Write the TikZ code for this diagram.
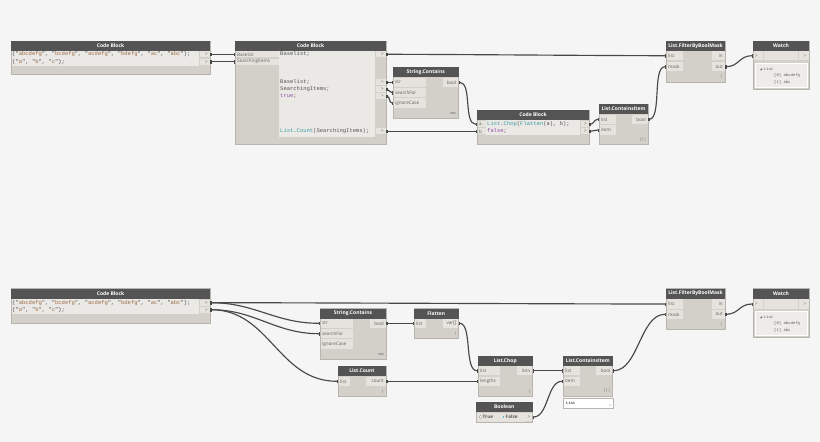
\documentclass[tikz,border=0pt]{standalone}
\usepackage{fontspec}
\setmainfont{Open Sans}
\setmonofont{Liberation Mono}
\usetikzlibrary{fit,arrows.meta}
\definecolor{bg}{HTML}{F5F5F5}
\definecolor{nodehead}{HTML}{545454}
\definecolor{nodebody}{HTML}{D3D0C9}
\definecolor{nodeedge}{HTML}{B8B5AE}
\definecolor{cellbg}{HTML}{E6E3DE}
\definecolor{codebg}{HTML}{EBE9E5}
\definecolor{labtext}{HTML}{5E5E5E}
\definecolor{wirecol}{HTML}{484848}
\definecolor{strcol}{HTML}{9C6B45}
\definecolor{kwcol}{HTML}{3C9AA6}
\definecolor{boolcol}{HTML}{8E4FA8}
\definecolor{codetext}{HTML}{555555}
\definecolor{watchbg}{HTML}{EDECE9}
\tikzset{
  body/.style={fill=nodebody, draw=nodeedge, line width=0.5pt, inner sep=0pt},
  headbar/.style={fill=nodehead},
  ttl/.style={text=white, font=\fontsize{5}{6}\selectfont\bfseries, inner sep=0pt},
  cell/.style={fill=cellbg},
  cbg/.style={fill=codebg},
  plab/.style={font=\fontsize{4.6}{5}\selectfont, text=labtext, inner sep=0pt},
  codet/.style={font=\fontsize{5.5}{6}\selectfont\ttfamily, text=codetext, inner sep=0pt, anchor=west},
  lace/.style={font=\fontsize{3.8}{4}\selectfont, text=labtext, inner sep=0pt},
  wtxt/.style={font=\fontsize{3.9}{4.5}\selectfont\ttfamily, text=labtext, inner sep=0pt, anchor=west},
  wire/.style={draw=wirecol, line width=1.15pt,
    {Rectangle[length=1.4pt,width=3pt]}-{Rectangle[length=1.4pt,width=3pt]}},
}
\newcommand{\dnode}[6]{% name, x1, y1, x2, y2, title
  \node[body, fit={(#2,#3) (#4,#5)}] (#1) {};
  \fill[headbar] (#2,#3) rectangle (#4,{#3+10});
  \node[ttl] (#1-t) at ({(#2+#4)/2},{#3+5}) {#6};
}
\newcommand{\incell}[5]{% x1, x2, y, h, label
  \fill[cell] ({#1+0.5},{#3-#4/2+0.4}) rectangle (#2,{#3+#4/2-0.4});
  \node[plab, anchor=west] at ({#1+2},#3) {#5};
}
\newcommand{\outcell}[5]{% x1, x2, y, h, label
  \fill[cell] (#1,{#3-#4/2+0.4}) rectangle ({#2-0.5},{#3+#4/2-0.4});
  \node[plab, anchor=east] at ({#2-2},#3) {#5};
}
\newcommand{\wirec}[3][20]{\draw[wire] (#2) .. controls +(#1,0) and +(-#1,0) .. (#3);}
\begin{document}
\begin{tikzpicture}[x=1pt,y=-1pt]
\fill[bg] (0,0) rectangle (820,442);
\useasboundingbox (0,0) rectangle (820,442);

%%%%%%%%%%%%%%%% TOP GRAPH %%%%%%%%%%%%%%%%
% Code Block 1
\dnode{cbA}{11}{41}{210}{74}{Code Block}
\fill[cbg] (11.5,51) rectangle (199,65.5);
\node[codet] (cbA-l1) at (12,54.3) {\{"\textcolor{strcol}{abcdefg}", "\textcolor{strcol}{bcdefg}", "\textcolor{strcol}{acdefg}", "\textcolor{strcol}{bdefg}", "\textcolor{strcol}{ac}", "\textcolor{strcol}{abc}"\};};
\node[codet] (cbA-l2) at (12,61.7) {\{"\textcolor{strcol}{a}", "\textcolor{strcol}{b}", "\textcolor{strcol}{c}"\};};
\outcell{199.5}{210}{54.3}{7}{>}
\outcell{199.5}{210}{61.7}{7}{>}
\coordinate (cbA-o1) at (210,54.3);
\coordinate (cbA-o2) at (210,61.7);

% Code Block 2
\dnode{cbB}{235}{41}{386}{144}{Code Block}
\incell{235}{278.5}{54.3}{7}{Baselist}
\incell{235}{278.5}{61.7}{7}{SearchingItems}
\fill[cbg] (279,51) rectangle (375,137);
\node[codet] at (280,54.3) {Baselist;};
\node[codet] at (280,82.3) {Baselist;};
\node[codet] at (280,89.3) {SearchingItems;};
\node[codet] at (280,96.3) {\textcolor{boolcol}{true};};
\node[codet] at (280,131.3) {\textcolor{kwcol}{List}.\textcolor{kwcol}{Count}(SearchingItems);};
\foreach \yy in {54.3,82.3,89.3,96.3,131.3}{\outcell{375.5}{386}{\yy}{7}{>}}
\coordinate (cbB-i1) at (235,54.3);
\coordinate (cbB-i2) at (235,61.7);
\coordinate (cbB-o1) at (386,54.3);
\coordinate (cbB-o2) at (386,82.3);
\coordinate (cbB-o3) at (386,89.3);
\coordinate (cbB-o4) at (386,96.3);
\coordinate (cbB-o5) at (386,131.3);

% String.Contains (top)
\dnode{scA}{393}{67}{458.5}{118}{String.Contains}
\incell{393}{426}{82.3}{10}{str}
\incell{393}{426}{92.7}{10}{searchFor}
\incell{393}{426}{103}{10}{ignoreCase}
\outcell{443}{458.5}{82.3}{10}{bool}
\node[lace] at (453,113.3) {xxx};
\coordinate (scA-i1) at (393,82.3);
\coordinate (scA-i2) at (393,92.7);
\coordinate (scA-i3) at (393,103);
\coordinate (scA-o) at (458.5,82.3);

% Code Block 3
\dnode{cbC}{477}{110}{589}{144}{Code Block}
\incell{477}{486}{124.3}{7}{a}
\incell{477}{486}{131.3}{7}{b}
\fill[cbg] (486,120) rectangle (580,135);
\node[codet] at (487,124.3) {\textcolor{kwcol}{List}.\textcolor{kwcol}{Chop}(\textcolor{kwcol}{Flatten}(a), b);};
\node[codet] at (487,131.3) {\textcolor{boolcol}{false};};
\outcell{580.5}{589}{124.3}{7}{>}
\outcell{580.5}{589}{131.3}{7}{>}
\coordinate (cbC-i1) at (477,124.3);
\coordinate (cbC-i2) at (477,131.3);
\coordinate (cbC-o1) at (589,124.3);
\coordinate (cbC-o2) at (589,131.3);

% List.ContainsItem (top)
\dnode{ciA}{599}{104}{648}{144}{List.ContainsItem}
\incell{599}{616}{119.3}{10}{list}
\incell{599}{616}{130}{10}{item}
\outcell{632}{648}{119.3}{10}{bool}
\node[lace] at (643,140) {|||};
\coordinate (ciA-i1) at (599,119.3);
\coordinate (ciA-i2) at (599,130);
\coordinate (ciA-o) at (648,119.3);

% List.FilterByBoolMask (top)
\dnode{fbA}{666}{41}{725}{82}{List.FilterByBoolMask}
\incell{666}{683}{55.7}{10}{list}
\incell{666}{683}{66.7}{10}{mask}
\outcell{712}{725}{55.7}{10}{in}
\outcell{712}{725}{66.7}{10}{out}
\node[lace] at (722,77) {|};
\coordinate (fbA-i1) at (666,55.7);
\coordinate (fbA-i2) at (666,66.7);
\coordinate (fbA-o) at (725,66.7);

% Watch (top)
\dnode{wA}{753}{41}{809}{89}{Watch}
\fill[cell] (753.5,51.4) rectangle (763,60.2);
\fill[cell] (764,51.4) rectangle (798,60.2);
\fill[cell] (799,51.4) rectangle (808.5,60.2);
\node[plab] at (756.5,55.7) {>};
\node[plab] at (805,55.7) {>};
\draw[fill=watchbg, draw=white, line width=0.6pt] (755.5,63.5) rectangle (807,87);
\fill[labtext] (760,70.2) -- (762,68) -- (762,70.2) -- cycle;
\node[wtxt] at (764,69) {List};
\node[wtxt] at (774,75.7) {[0] abcdefg};
\node[wtxt] at (774,82.3) {[1] abc};
\coordinate (wA-i) at (753,55.7);

% Top wires
\wirec[8]{cbA-o1}{cbB-i1}
\wirec[8]{cbA-o2}{cbB-i2}
\wirec[60]{cbB-o1}{fbA-i1}
\wirec[4]{cbB-o2}{scA-i1}
\wirec[4]{cbB-o3}{scA-i2}
\wirec[4]{cbB-o4}{scA-i3}
\wirec[30]{cbB-o5}{cbC-i2}
\wirec[14]{scA-o}{cbC-i1}
\wirec[5]{cbC-o1}{ciA-i1}
\wirec[5]{cbC-o2}{ciA-i2}
\wirec[14]{ciA-o}{fbA-i2}
\wirec[14]{fbA-o}{wA-i}

%%%%%%%%%%%%%%%% BOTTOM GRAPH %%%%%%%%%%%%%%%%
% Code Block 4
\dnode{cbD}{11}{288.5}{210}{323.5}{Code Block}
\fill[cbg] (11.5,298.5) rectangle (199,313.5);
\node[codet] at (12,302.7) {\{"\textcolor{strcol}{abcdefg}", "\textcolor{strcol}{bcdefg}", "\textcolor{strcol}{acdefg}", "\textcolor{strcol}{bdefg}", "\textcolor{strcol}{ac}", "\textcolor{strcol}{abc}"\};};
\node[codet] at (12,309.7) {\{"\textcolor{strcol}{a}", "\textcolor{strcol}{b}", "\textcolor{strcol}{c}"\};};
\outcell{199.5}{210}{302.7}{7}{>}
\outcell{199.5}{210}{309.7}{7}{>}
\coordinate (cbD-o1) at (210,302.7);
\coordinate (cbD-o2) at (210,309.7);

% String.Contains (bottom)
\dnode{scB}{320}{308.5}{386}{359}{String.Contains}
\incell{320}{353}{323.3}{10}{str}
\incell{320}{353}{333.7}{10}{searchFor}
\incell{320}{353}{344}{10}{ignoreCase}
\outcell{370}{386}{323.3}{10}{bool}
\node[lace] at (381,354.3) {xxx};
\coordinate (scB-i1) at (320,323.3);
\coordinate (scB-i2) at (320,333.7);
\coordinate (scB-o) at (386,323.3);

% List.Count
\dnode{lcB}{338}{366}{386}{396}{List.Count}
\incell{338}{350}{381.3}{10}{list}
\outcell{366}{386}{381.3}{10}{count}
\node[lace] at (383,391.7) {|};
\coordinate (lcB-i) at (338,381.3);
\coordinate (lcB-o) at (386,381.3);

% Flatten
\dnode{flB}{414}{308.5}{458.5}{338.5}{Flatten}
\incell{414}{426}{323.3}{10}{list}
\outcell{443}{458.5}{323.3}{10}{var[]}
\node[lace] at (456,333.7) {|};
\coordinate (flB-i) at (414,323.3);
\coordinate (flB-o) at (458.5,323.3);

% List.Chop
\dnode{chB}{478}{356}{532.5}{396}{List.Chop}
\incell{478}{500}{370.7}{10}{list}
\incell{478}{500}{381.3}{10}{lengths}
\outcell{517}{532.5}{370.7}{10}{lists}
\node[lace] at (530,391.3) {|};
\coordinate (chB-i1) at (478,370.7);
\coordinate (chB-i2) at (478,381.3);
\coordinate (chB-o) at (532.5,370.7);

% Boolean
\dnode{boB}{476}{402}{532.5}{422}{Boolean}
\fill[cell] (476.5,412.5) rectangle (524.5,421.5);
\outcell{525}{532.5}{417}{9}{>}
\draw[labtext!60, fill=white, line width=0.3pt] (480.5,417) circle (1.6pt);
\node[plab, anchor=west, font=\fontsize{4.7}{5}\selectfont\bfseries] at (482.5,417) {True};
\draw[white, fill=kwcol!80, line width=0.3pt] (503.5,417) circle (1.6pt);
\node[plab, anchor=west, font=\fontsize{4.7}{5}\selectfont\bfseries] at (505.5,417) {False};
\coordinate (boB-o) at (532.5,417);

% List.ContainsItem (bottom)
\dnode{ciB}{563}{356}{612.5}{396}{List.ContainsItem}
\incell{563}{580}{370.7}{10}{list}
\incell{563}{580}{381.3}{10}{item}
\outcell{596}{612.5}{370.7}{10}{bool}
\node[lace] at (607,391) {|||};
\draw[fill=white, draw=nodeedge, line width=0.4pt] (563,398.5) rectangle (613,408.5);
\node[wtxt, text=black] at (566,403.3) {List};
\node[lace] at (610,406) {\fontsize{3}{3}\selectfont v};
\coordinate (ciB-i1) at (563,370.7);
\coordinate (ciB-i2) at (563,381.3);
\coordinate (ciB-o) at (612.5,370.7);

% List.FilterByBoolMask (bottom)
\dnode{fbB}{666}{288.5}{725}{329.5}{List.FilterByBoolMask}
\incell{666}{683}{304}{10}{list}
\incell{666}{683}{314.3}{10}{mask}
\outcell{712}{725}{304}{10}{in}
\outcell{712}{725}{314.3}{10}{out}
\node[lace] at (722,324.3) {|};
\coordinate (fbB-i1) at (666,304);
\coordinate (fbB-i2) at (666,314.3);
\coordinate (fbB-o) at (725,314.3);

% Watch (bottom)
\dnode{wB}{753}{288.5}{809}{337.5}{Watch}
\fill[cell] (753.5,299) rectangle (763,308.8);
\fill[cell] (764,299) rectangle (798,308.8);
\fill[cell] (799,299) rectangle (808.5,308.8);
\node[plab] at (756.5,304) {>};
\node[plab] at (805,304) {>};
\draw[fill=watchbg, draw=white, line width=0.6pt] (755.5,311.7) rectangle (807,335);
\fill[labtext] (760,318.2) -- (762,316) -- (762,318.2) -- cycle;
\node[wtxt] at (764,317) {List};
\node[wtxt] at (774,323.7) {[0] abcdefg};
\node[wtxt] at (774,330) {[1] abc};
\coordinate (wB-i) at (753,304);

% Bottom wires
\wirec[100]{cbD-o1}{fbB-i1}
\wirec[45]{cbD-o1}{scB-i1}
\wirec[45]{cbD-o2}{scB-i2}
\wirec[60]{cbD-o2}{lcB-i}
\wirec[10]{scB-o}{flB-i}
\wirec[14]{flB-o}{chB-i1}
\wirec[30]{lcB-o}{chB-i2}
\wirec[12]{chB-o}{ciB-i1}
\wirec[16]{boB-o}{ciB-i2}
\wirec[26]{ciB-o}{fbB-i2}
\wirec[14]{fbB-o}{wB-i}
\end{tikzpicture}
\end{document}
